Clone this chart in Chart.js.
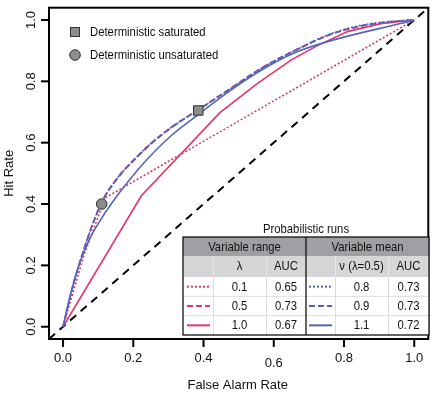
<!DOCTYPE html>
<html>
<head>
<meta charset="utf-8">
<script src="https://cdn.jsdelivr.net/npm/chart.js@4.4.1/dist/chart.umd.min.js"></script>
<style>
  html, body { margin: 0; padding: 0; background: #fff; }
  #roc { display: block; }
</style>
</head>
<body>
<canvas id="roc" width="436" height="396"></canvas>
<script>
// =================== Datos ===================

// Ejes: marcas y etiquetas
const TICKS = [0, 0.2, 0.4, 0.6, 0.8, 1.0];
const TICK_LABELS = ["0.0", "0.2", "0.4", "0.6", "0.8", "1.0"];
const RANGO = [-0.04, 1.04];

// Diagonal de referencia (azar)
const DIAG = [-0.04, 1.04];

// Rango variable: lambda = 0.1, 0.5, 1.0
const FA_L01 = [0, 0.06, 0.12, 1];
const HIT_L01 = [0, 0.235, 0.42, 1];

const FA_L05 = [0, 0.03, 0.055, 0.085, 0.115, 0.16, 0.2, 0.25, 0.31, 0.385, 0.47, 0.57, 0.67, 0.76, 0.85, 0.93, 1];
const HIT_L05 = [0, 0.142, 0.238, 0.338, 0.418, 0.493, 0.543, 0.598, 0.652, 0.708, 0.772, 0.847, 0.907, 0.953, 0.981, 0.994, 1];

const FA_L10 = [0, 0.223, 0.446, 0.55, 0.65, 0.72, 0.81, 0.905, 1];
const HIT_L10 = [0, 0.427, 0.697, 0.79, 0.87, 0.914, 0.962, 0.988, 1];

// Media variable (lambda = 0.5): nu = 0.8, 0.9, 1.1
const FA_N08 = [0, 0.03, 0.055, 0.085, 0.115, 0.16, 0.2, 0.25, 0.31, 0.385, 0.47, 0.57, 0.67, 0.76, 0.85, 0.93, 1];
const HIT_N08 = [0, 0.138, 0.236, 0.336, 0.416, 0.492, 0.542, 0.597, 0.651, 0.707, 0.771, 0.846, 0.906, 0.954, 0.983, 0.995, 1];

const FA_N09 = [0, 0.03, 0.055, 0.085, 0.115, 0.16, 0.2, 0.25, 0.31, 0.385, 0.47, 0.57, 0.67, 0.76, 0.85, 0.93, 1];
const HIT_N09 = [0, 0.14, 0.235, 0.335, 0.415, 0.49, 0.54, 0.595, 0.65, 0.706, 0.77, 0.845, 0.905, 0.952, 0.98, 0.994, 1];

const FA_N11 = [0, 0.02, 0.045, 0.075, 0.105, 0.14, 0.19, 0.243, 0.31, 0.383, 0.47, 0.57, 0.67, 1];
const HIT_N11 = [0, 0.1, 0.2, 0.285, 0.345, 0.405, 0.48, 0.55, 0.625, 0.69, 0.765, 0.84, 0.898, 1];

// Corridas deterministas: saturada, no saturada
const DET_FA = [0.385, 0.11];
const DET_HIT = [0.705, 0.40];
const DET_LABELS = ["Deterministic saturated", "Deterministic unsaturated"];

// Tabla de corridas probabilísticas
const LAMBDAS = ["0.1", "0.5", "1.0"];
const AUC_RANGO = ["0.65", "0.73", "0.67"];
const NUS = ["0.8", "0.9", "1.1"];
const AUC_MEDIA = ["0.73", "0.73", "0.72"];


// =================== Helpers ===================

const ROSA = "#E3356A";
const AZUL = "#5365B8";
const GRIS = "#8c8c8c";
const FUENTE = '"Liberation Sans", Arial, Helvetica, sans-serif';

const PUNTEADO = [2, 2];
const GUIONES = [6, 3];

// Une dos arreglos en puntos {x, y} para Chart.js
function puntos(xs, ys) {
  return xs.map((x, i) => ({ x, y: ys[i] }));
}

// Texto con escala horizontal (la figura original usa letra angosta)
function texto(ctx, s, x, y, size, sx, align) {
  ctx.save();
  ctx.font = `${size}px ${FUENTE}`;
  ctx.fillStyle = "#111";
  ctx.textAlign = align || "center";
  ctx.textBaseline = "middle";
  ctx.translate(x, y);
  ctx.scale(sx, 1);
  ctx.fillText(s, 0, 0);
  ctx.restore();
}

function linea(ctx, x1, y1, x2, y2, color, ancho, dash) {
  ctx.save();
  ctx.strokeStyle = color;
  ctx.lineWidth = ancho;
  ctx.setLineDash(dash || []);
  ctx.beginPath();
  ctx.moveTo(x1, y1);
  ctx.lineTo(x2, y2);
  ctx.stroke();
  ctx.restore();
}

// Serie de línea sin puntos
function curva(xs, ys, color, dash, suave) {
  return {
    data: puntos(xs, ys),
    showLine: true,
    borderColor: color,
    borderWidth: 1.6,
    borderDash: dash,
    pointRadius: 0,
    cubicInterpolationMode: suave ? "monotone" : "default",
    tension: 0
  };
}


// =================== Plugin: marco, ejes, leyenda y tabla ===================

const marco = {
  id: "marco",

  beforeDraw(chart) {
    const ctx = chart.ctx;
    ctx.save();
    ctx.fillStyle = "#fff";
    ctx.fillRect(0, 0, chart.width, chart.height);
    ctx.restore();
  },

  afterDraw(chart) {
    const ctx = chart.ctx;
    const a = chart.chartArea;
    const sx = chart.scales.x;
    const sy = chart.scales.y;

    // Caja del gráfico
    ctx.save();
    ctx.strokeStyle = "#000";
    ctx.lineWidth = 2;
    ctx.strokeRect(a.left, a.top, a.right - a.left, a.bottom - a.top);
    ctx.restore();

    // Marcas y etiquetas de los ejes
    TICKS.forEach((v, i) => {
      const px = sx.getPixelForValue(v);
      linea(ctx, px, a.bottom, px, a.bottom + 8, "#000", 2);
      // el 0.6 del eje X aparece un poco más abajo en el original
      const dy = TICK_LABELS[i] === "0.6" ? 5 : 0;
      texto(ctx, TICK_LABELS[i], px, a.bottom + 19 + dy, 13, 1);

      const py = sy.getPixelForValue(v);
      linea(ctx, a.left - 8, py, a.left, py, "#000", 2);
      ctx.save();
      ctx.translate(31, py);
      ctx.rotate(-Math.PI / 2);
      texto(ctx, TICK_LABELS[i], 0, 0, 13, 1);
      ctx.restore();
    });

    texto(ctx, "False Alarm Rate", (a.left + a.right) / 2 - 1, 385, 13, 1);
    ctx.save();
    ctx.translate(9, (a.top + a.bottom) / 2);
    ctx.rotate(-Math.PI / 2);
    texto(ctx, "Hit Rate", 0, 0, 13, 1);
    ctx.restore();

    // Leyenda de las corridas deterministas
    ctx.save();
    ctx.fillStyle = GRIS;
    ctx.strokeStyle = "#333";
    ctx.lineWidth = 1;
    ctx.fillRect(70.5, 27.5, 9, 9);
    ctx.strokeRect(70.5, 27.5, 9, 9);
    ctx.beginPath();
    ctx.arc(75, 55, 5.3, 0, Math.PI * 2);
    ctx.fill();
    ctx.stroke();
    ctx.restore();
    texto(ctx, DET_LABELS[0], 90, 32, 13, 0.87, "left");
    texto(ctx, DET_LABELS[1], 90, 55, 13, 0.87, "left");

    // =================== Tabla ===================
    const T = { l: 183, r: 429, t: 237, h1: 256, h2: 277, b: 335, mid: 306 };
    const alto = (T.b - T.h2) / 3;
    const colIzq = [183, 213, 266, 306];
    const colDer = [306, 335, 388, 429];
    const centro = (c, k) => (c[k] + c[k + 1]) / 2;

    texto(ctx, "Probabilistic runs", T.mid, 229, 13, 0.87);

    ctx.save();
    ctx.fillStyle = "#fff";
    ctx.fillRect(T.l, T.t, T.r - T.l, T.b - T.t);
    ctx.fillStyle = "#9ea0a3";
    ctx.fillRect(T.l, T.t, T.r - T.l, T.h1 - T.t);
    ctx.fillStyle = "#d5d6d8";
    ctx.fillRect(T.l, T.h1, T.r - T.l, T.h2 - T.h1);
    ctx.restore();

    // separadores claros
    for (let k = 1; k < 3; k++) {
      const y = T.h2 + k * alto;
      linea(ctx, T.l, y, T.r, y, "#dcdcdc", 1);
    }
    [colIzq[1], colIzq[2], colDer[1], colDer[2]].forEach(x => {
      linea(ctx, x + 0.5, T.h2, x + 0.5, T.b, "#dcdcdc", 1);
      linea(ctx, x + 0.5, T.h1, x + 0.5, T.h2, "#e6e7e9", 1);
    });

    // encabezados
    texto(ctx, "Variable range", (T.l + T.mid) / 2, 247, 13, 0.87);
    texto(ctx, "Variable mean", (T.mid + T.r) / 2, 247, 13, 0.87);
    texto(ctx, "λ", centro(colIzq, 1), 266.5, 13, 0.87);
    texto(ctx, "AUC", centro(colIzq, 2), 266.5, 13, 0.87);
    texto(ctx, "ν (λ=0.5)", centro(colDer, 1), 266.5, 13, 0.87);
    texto(ctx, "AUC", centro(colDer, 2), 266.5, 13, 0.87);

    // filas
    const estilos = [PUNTEADO, GUIONES, []];
    for (let k = 0; k < 3; k++) {
      const y = T.h2 + (k + 0.5) * alto;
      linea(ctx, 187, y, 210, y, ROSA, 2, estilos[k]);
      linea(ctx, 309, y, 332, y, AZUL, 2, estilos[k]);
      texto(ctx, LAMBDAS[k], centro(colIzq, 1), y + 0.5, 13, 0.87);
      texto(ctx, AUC_RANGO[k], centro(colIzq, 2), y + 0.5, 13, 0.87);
      texto(ctx, NUS[k], centro(colDer, 1), y + 0.5, 13, 0.87);
      texto(ctx, AUC_MEDIA[k], centro(colDer, 2), y + 0.5, 13, 0.87);
    }

    // borde y división central
    linea(ctx, T.mid, T.t, T.mid, T.b, "#111", 1.3);
    ctx.save();
    ctx.strokeStyle = "#111";
    ctx.lineWidth = 1.3;
    ctx.strokeRect(T.l, T.t, T.r - T.l, T.b - T.t);
    ctx.restore();
  }
};


// =================== Gráfica ===================

const ctxRoc = document.getElementById("roc").getContext("2d");

const chartRoc = new Chart(ctxRoc, {
  type: "scatter",
  data: {
    // el primer dataset queda encima
    datasets: [
      {
        data: [{ x: DET_FA[0], y: DET_HIT[0] }],
        pointStyle: "rect",
        pointRadius: 6.7,
        backgroundColor: GRIS,
        borderColor: "#333",
        borderWidth: 1
      },
      {
        data: [{ x: DET_FA[1], y: DET_HIT[1] }],
        pointStyle: "circle",
        pointRadius: 5.3,
        backgroundColor: GRIS,
        borderColor: "#333",
        borderWidth: 1
      },
      curva(FA_N11, HIT_N11, AZUL, [], true),
      curva(FA_N09, HIT_N09, AZUL, GUIONES, true),
      curva(FA_N08, HIT_N08, AZUL, PUNTEADO, true),
      curva(FA_L05, HIT_L05, ROSA, GUIONES, true),
      curva(FA_L10, HIT_L10, ROSA, [], false),
      curva(FA_L01, HIT_L01, ROSA, PUNTEADO, false),
      {
        data: puntos(DIAG, DIAG),
        showLine: true,
        borderColor: "#000",
        borderWidth: 2,
        borderDash: [8, 6],
        pointRadius: 0
      }
    ]
  },
  options: {
    responsive: false,
    devicePixelRatio: 1,
    animation: false,
    events: [],
    layout: { padding: { left: 49, top: 1, right: 1, bottom: 57 } },
    plugins: {
      legend: { display: false },
      tooltip: { enabled: false }
    },
    scales: {
      x: { type: "linear", min: RANGO[0], max: RANGO[1], display: false },
      y: { type: "linear", min: RANGO[0], max: RANGO[1], display: false }
    }
  },
  plugins: [marco]
});
</script>
</body>
</html>
